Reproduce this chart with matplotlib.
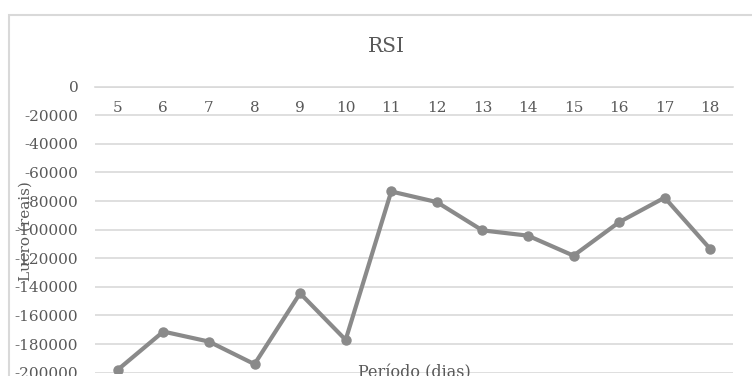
import numpy as np
import matplotlib
matplotlib.use("Agg")
import matplotlib.pyplot as plt
from matplotlib.patches import Rectangle

periodos = ["5", "6", "7", "8", "9", "10", "11", "12", "13", "14", "15", "16", "17", "18"]
lucro = [-198000, -171300, -178300, -194100, -144500, -177100, -73300,
         -80700, -100500, -104200, -118200, -94800, -77600, -113500]
yticks = [0, -20000, -40000, -60000, -80000, -100000, -120000, -140000,
          -160000, -180000, -200000]

W, H = 752, 376
fig = plt.figure(figsize=(W / 100, H / 100), dpi=100)
fig.patch.set_facecolor("white")

# borda do grafico (cortada a direita e embaixo)
fig.patches.append(Rectangle((8.5 / W, -0.1), 1.2, 1 - 14.5 / H + 0.1,
                             transform=fig.transFigure, fill=False,
                             edgecolor="#d9d9d9", linewidth=1.5))

left, right = 95 / W, 733 / W
top, bottom = 86.7 / H, 372.6 / H
ax = fig.add_axes([left, 1 - bottom, right - left, bottom - top])

x = np.arange(len(periodos))
ax.plot(x, lucro, color="#8a8a8a", linewidth=3, marker="o", markersize=6.5,
        solid_joinstyle="round")

ax.set_xlim(-0.5, len(periodos) - 0.5)
ax.set_ylim(-200000, 0)
ax.set_yticks(yticks)
ax.set_yticklabels([str(v) for v in yticks])
ax.set_xticks(x)
ax.set_xticklabels(periodos)

ax.grid(axis="y", color="#d9d9d9", linewidth=1.2)
ax.set_axisbelow(True)
for s in ["left", "right", "top"]:
    ax.spines[s].set_visible(False)
ax.spines["bottom"].set_position(("data", 0))
ax.spines["bottom"].set_color("#d9d9d9")
ax.spines["bottom"].set_linewidth(1.2)

ax.tick_params(axis="y", length=0, pad=12, labelsize=11, labelcolor="#595959")
ax.tick_params(axis="x", length=0, pad=10, labelsize=11, labelcolor="#595959")
for lab in ax.get_xticklabels() + ax.get_yticklabels():
    lab.set_family("DejaVu Serif")

fig.text(386 / W, 1 - 46 / H, "RSI", ha="center", va="center",
         fontsize=14.5, color="#595959", family="DejaVu Serif")
fig.text(26 / W, 1 - 231 / H, "Lucro (reais)", ha="center", va="center",
         rotation=90, fontsize=11, color="#595959", family="DejaVu Serif")
fig.text(414 / W, 1 - 373 / H, "Período (dias)", ha="center", va="center",
         fontsize=11.5, color="#595959", family="DejaVu Serif")

fig.savefig("out.png", dpi=100)
